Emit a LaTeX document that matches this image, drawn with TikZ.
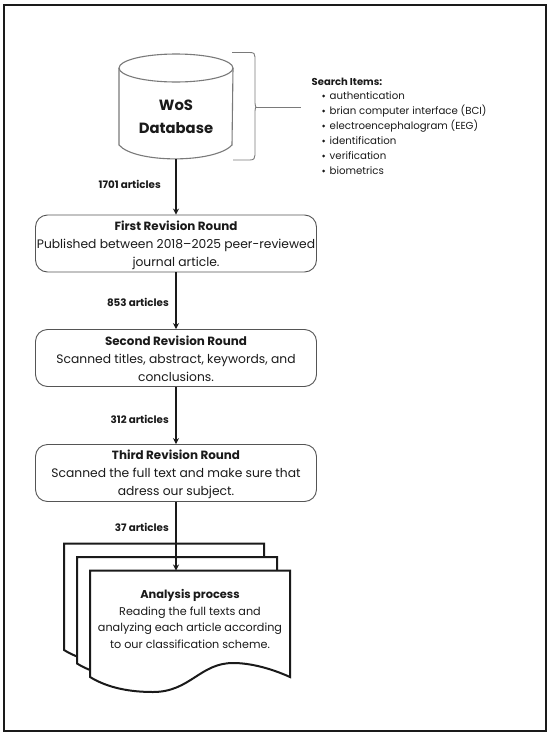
\documentclass[tikz,border=0pt]{standalone}
\usepackage{fontspec}
\setmainfont{Poppins}
\usetikzlibrary{arrows.meta}
\definecolor{ink}{HTML}{1A1A1A}
\definecolor{graystroke}{HTML}{7A7A7A}
\newcommand{\boxtitle}[1]{{\bfseries\fontsize{11.9}{18}\selectfont #1}}
\tikzset{
  x=1pt,y=-1pt,
  roundbox/.style={draw=graystroke!70!black,line width=0.9pt,rounded corners=12pt,minimum width=281pt,minimum height=57pt,inner sep=0pt,align=center,font=\fontsize{12.3}{18}\selectfont,text=ink},
  boxtext/.style={inner sep=0pt,align=center,font=\fontsize{12.3}{18}\selectfont,text=ink},
  flowarrow/.style={draw=ink,line width=1.5pt,-{Stealth[length=6pt,width=6pt]}},
  graybrace/.style={draw=graystroke,line width=0.9pt},
  pagesheet/.style={draw=ink,line width=2pt,fill=white,line join=miter},
}
\begin{document}
\begin{tikzpicture}
\useasboundingbox (0,0) rectangle (550,736);
\fill[white] (0,0) rectangle (550,736);
\node[draw=ink,line width=1.5pt,minimum width=542pt,minimum height=726pt,inner sep=0pt] (frame) at (275,368) {};

% cylinder
\draw[graybrace,line width=1.1pt,fill=white] (119,68) -- (119,145) .. controls (135,163.5) and (215,163.5) .. (232,145) -- (233,68);
\draw[graybrace,line width=1.1pt] (176,68) ellipse [x radius=57, y radius=14];
\node[font=\bfseries\fontsize{14.8}{22.5}\selectfont,align=center,text=ink,inner sep=0pt] (db) at (176,117) {WoS\\Database};
\coordinate (dbbottom) at (176,159);

% brace
\coordinate (bracemid) at (256,107);
\coordinate (itemsend) at (301,107);
\draw[graybrace] (232,52.5) -- (250,52.5) .. controls (254,52.5) and (255,54) .. (255,57) -- (255,103) .. controls (255,106) and (256,107) .. (bracemid);
\draw[graybrace] (233,160) -- (250,160) .. controls (254,160) and (255,158) .. (255,155) -- (255,111) .. controls (255,108) and (256,107) .. (bracemid);
\draw[graybrace] (bracemid) -- (itemsend);

% search items
\node[anchor=west,inner sep=0pt,font=\bfseries\fontsize{10}{12}\selectfont,text=ink] (head) at (311.5,81.5) {Search Items:};
\foreach \y/\t/\n in {96/authentication/a,111/brian computer interface (BCI)/b,126/electroencephalogram (EEG)/c,141/identification/d,156/verification/e,171/biometrics/f}{
  \node[anchor=west,inner sep=0pt,font=\fontsize{10.2}{12}\selectfont,text=ink] (item\n) at (329.5,\y) {\t};
  \fill[ink] (323.5,\y) circle (1.5pt);
}

% boxes
\node[roundbox] (r1) at (176,243.5) {};
\node[boxtext] (t1) at (176,245) {\boxtitle{First Revision Round}\\Published between 2018--2025 peer-reviewed\\journal article.};
\node[roundbox] (r2) at (176,358) {};
\node[boxtext] (t2) at (176,358.5) {\boxtitle{Second Revision Round}\\Scanned titles, abstract, keywords, and\\conclusions.};
\node[roundbox] (r3) at (176,473) {};
\node[boxtext] (t3) at (176,474.5) {\boxtitle{Third Revision Round}\\Scanned the full text and make sure that\\adress our subject.};

% pages
\foreach \dx/\dy in {-26/-27,-13/-13.5,0/0}{
  \draw[pagesheet,shift={(\dx,\dy)}] (90,677) -- (90,570.5) -- (290,570.5) -- (290,677) .. controls (270,668) and (250,663) .. (233,663) .. controls (200,663) and (190,692) .. (153,692) .. controls (130,692) and (108,688) .. (90,677) -- cycle;
}
\coordinate (pagetop) at (176,570.5);
\node[font=\fontsize{11.2}{16.7}\selectfont,align=center,text=ink,inner sep=0pt] (analysis) at (190,619) {{\bfseries\fontsize{11.4}{16.7}\selectfont Analysis process}\\Reading the full texts and\\analyzing each article according\\to our classification scheme.};

% connectors
\draw[flowarrow] (dbbottom) -- (r1.north -| dbbottom);
\draw[flowarrow] (r1.south) -- (r2.north);
\draw[flowarrow] (r2.south) -- (r3.north);
\draw[flowarrow] (r3.south) -- (pagetop);

% labels
\tikzset{countlabel/.style={font=\bfseries\fontsize{10.3}{12}\selectfont,text=ink,inner sep=0pt}}
\node[countlabel,anchor=east] (c1) at (161,184) {1701 articles};
\node[countlabel,anchor=east] (c2) at (169,302) {853 articles};
\node[countlabel,anchor=east] (c3) at (169,419) {312 articles};
\node[countlabel,anchor=east] (c4) at (169,527.5) {37 articles};
\end{tikzpicture}
\end{document}
